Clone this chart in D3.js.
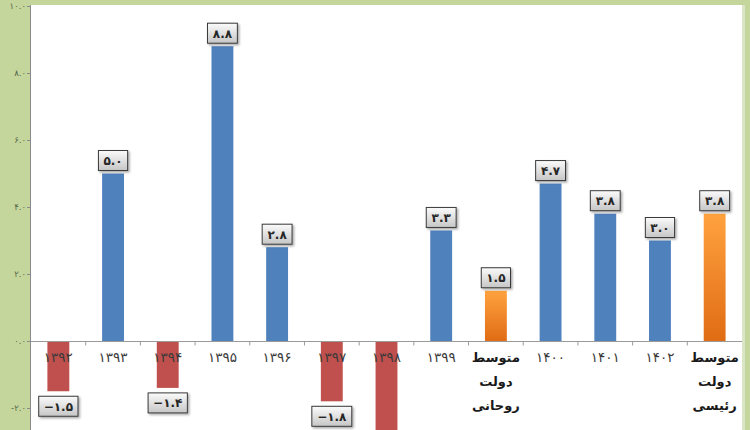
<!DOCTYPE html>
<html><head><meta charset="utf-8">
<script src="https://cdn.jsdelivr.net/npm/d3@7"></script>
<style>html,body{margin:0;padding:0;background:#fff;overflow:hidden}svg{display:block}</style>
</head><body><svg id="c" width="750" height="430"></svg>
<script>
// ---- data ----
const categories = ["۱۳۹۲","۱۳۹۳","۱۳۹۴","۱۳۹۵","۱۳۹۶","۱۳۹۷","۱۳۹۸","۱۳۹۹","متوسط دولت روحانی","۱۴۰۰","۱۴۰۱","۱۴۰۲","متوسط دولت رئیسی"];
const values = [-1.5, 5.0, -1.4, 8.8, 2.8, -1.8, -3.5, 3.3, 1.5, 4.7, 3.8, 3.0, 3.8];
const yTicks = [-2, 0, 2, 4, 6, 8, 10];

// ---- helpers ----
const faDigits = "۰۱۲۳۴۵۶۷۸۹";
const toFa = s => String(s).replace(/[0-9]/g, d => faDigits[+d]);
const fmt = v => (v < 0 ? "−" : "") + toFa(Math.abs(v).toFixed(1));
const fmtTick = v => (v < 0 ? "-" : "") + toFa(Math.abs(v).toFixed(1));

const W = 750, H = 430;
const plot = {left: 31, right: 742, top: 5};
const svg = d3.select("#c");

const defs = svg.append("defs");
const og = defs.append("linearGradient").attr("id","og").attr("x1",0).attr("y1",0).attr("x2",0).attr("y2",1);
og.append("stop").attr("offset","0%").attr("stop-color","#ffa23f");
og.append("stop").attr("offset","100%").attr("stop-color","#e06c14");
const lg = defs.append("linearGradient").attr("id","lg").attr("x1",0).attr("y1",0).attr("x2",0).attr("y2",1);
lg.append("stop").attr("offset","0%").attr("stop-color","#fbfbfb");
lg.append("stop").attr("offset","100%").attr("stop-color","#c6c6c6");
const sh = defs.append("filter").attr("id","sh").attr("x","-20%").attr("y","-20%").attr("width","150%").attr("height","160%");
sh.append("feDropShadow").attr("dx",1.5).attr("dy",1.5).attr("stdDeviation",1).attr("flood-color","#000").attr("flood-opacity",0.35);

// background panels
svg.append("rect").attr("width",W).attr("height",H).attr("fill","#c4d69c");
svg.append("rect").attr("x",plot.left).attr("y",plot.top).attr("width",plot.right-plot.left+3).attr("height",H).attr("fill","#dbe6c4");
svg.append("rect").attr("x",plot.left).attr("y",plot.top).attr("width",plot.right-plot.left).attr("height",H).attr("fill","#ffffff");

// scales
const x = d3.scaleBand().domain(categories).range([plot.left, plot.right]).paddingInner(0.6).paddingOuter(0.3);
const y = d3.scaleLinear().domain([-2, 10]).range([408, 6]);

// y axis
const yAxis = d3.axisLeft(y).tickValues(yTicks).tickSize(4).tickFormat(fmtTick);
const ya = svg.append("g").attr("transform",`translate(${plot.left},0)`).call(yAxis);
ya.select(".domain").attr("stroke","#8a8a8a").attr("d",`M-0.5,${plot.top}V${H}`);
ya.selectAll(".tick line").attr("stroke","#8a8a8a");
ya.selectAll(".tick text").attr("fill","#56664a").attr("font-family","DejaVu Sans").attr("font-size",8.5).attr("x",-5);

// bars
const colorOf = (c, v) => c.startsWith("متوسط") ? "url(#og)" : (v < 0 ? "#c0504d" : "#4f81bd");
svg.append("g").selectAll("rect").data(categories).join("rect")
  .attr("x", d => x(d))
  .attr("width", x.bandwidth())
  .attr("y", (d,i) => Math.min(y(0), y(values[i])))
  .attr("height", (d,i) => Math.abs(y(values[i]) - y(0)))
  .attr("fill", (d,i) => colorOf(d, values[i]));

// zero line with category ticks
const zeroY = Math.round(y(0)) + 0.5;
svg.append("line").attr("x1",plot.left).attr("x2",plot.right).attr("y1",zeroY).attr("y2",zeroY).attr("stroke","#9a9a9a").attr("stroke-width",1);
const step = x.step();
svg.append("g").selectAll("line").data(d3.range(1, categories.length)).join("line")
  .attr("x1", k => plot.left + k*step).attr("x2", k => plot.left + k*step)
  .attr("y1", zeroY).attr("y2", zeroY + 4).attr("stroke","#9a9a9a");

// category labels
const cl = svg.append("g").selectAll("text").data(categories).join("text")
  .attr("text-anchor","middle")
  .attr("font-family","DejaVu Sans")
  .attr("fill", d => d.startsWith("متوسط") ? "#1a1a1a" : "#3a3a3a")
  .attr("font-weight", d => d.startsWith("متوسط") ? "bold" : "normal")
  .attr("font-size", d => d.startsWith("متوسط") ? 13 : 13.5);
cl.each(function(d){
  const t = d3.select(this);
  const cx = x(d) + x.bandwidth()/2;
  d.split(" ").forEach((w, j) => {
    t.append("tspan").attr("x", cx).attr("y", 362 + j*24).attr("direction","rtl").text(w);
  });
});

// value labels (only those whose box lies inside the visible frame)
const lbl = svg.append("g").selectAll("g").data(categories).join("g");
lbl.each(function(d, i){
  const v = values[i];
  const bh = 20;
  const by = v >= 0 ? y(v) - 3 - bh : y(v) + 5;
  if (by + bh > H) return;
  const g = d3.select(this);
  const cx = x(d) + x.bandwidth()/2;
  const txt = g.append("text").attr("text-anchor","middle").attr("font-family","DejaVu Sans")
    .attr("font-size",12).attr("font-weight","bold").attr("fill","#262626").attr("direction","ltr").text(fmt(v));
  const bb = txt.node().getBBox();
  const bw = bb.width + 10;
  g.insert("rect","text").attr("x", cx - bw/2).attr("y", by).attr("width", bw).attr("height", bh)
    .attr("fill","url(#lg)").attr("stroke","#3a3a3a").attr("stroke-width",1).attr("filter","url(#sh)");
  txt.attr("x", cx).attr("y", by + bh/2).attr("dy","0.36em");
});
</script></body></html>
